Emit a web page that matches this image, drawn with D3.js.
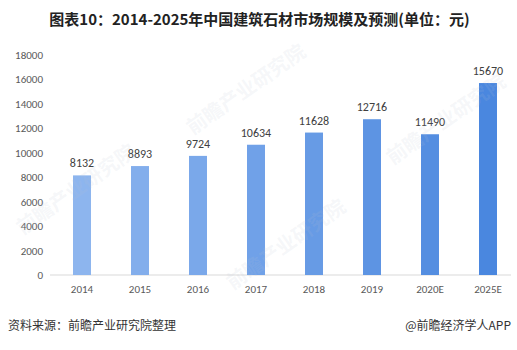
<!DOCTYPE html>
<html>
<head>
<meta charset="utf-8">
<script src="https://cdn.jsdelivr.net/npm/d3@7"></script>
<style>
  html, body { margin: 0; padding: 0; background: #fff; }
  svg { display: block; font-family: "Microsoft YaHei", "Noto Sans CJK SC", "Noto Sans", sans-serif; }
</style>
</head>
<body>
<svg id="chart" width="517" height="350"></svg>
<script>
// 中国建筑石材市场规模（元）
const years = ["2014", "2015", "2016", "2017", "2018", "2019", "2020E", "2025E"];
const marketSize = [8132, 8893, 9724, 10634, 11628, 12716, 11490, 15670];
const yTicks = [0, 2000, 4000, 6000, 8000, 10000, 12000, 14000, 16000, 18000];

const titleText = "图表10：2014-2025年中国建筑石材市场规模及预测(单位：元)";
const sourceText = "资料来源：前瞻产业研究院整理";
const brandText = "@前瞻经济学人APP";
const watermarkText = "前瞻产业研究院";

const svg = d3.select("#chart");
const W = 517, H = 350;
const plot = { left: 53, right: 517, top: 54.5, bottom: 275 };

const x = d3.scaleBand().domain(years).range([plot.left, plot.right]).paddingInner(0.69).paddingOuter(0.345);
const y = d3.scaleLinear().domain([0, 18000]).range([plot.bottom, plot.top]);
const color = d3.scaleLinear().domain([0, years.length - 1]).range(["#8db5ee", "#4a87df"]);

// 标题
svg.append("text").attr("x", W / 2 + 1).attr("y", 25).attr("text-anchor", "middle")
  .attr("font-size", 15).attr("font-weight", "bold").attr("fill", "#222").text(titleText);

// y 轴
const yAxis = svg.append("g").attr("transform", `translate(${plot.left - 10},0)`)
  .call(d3.axisLeft(y).tickValues(yTicks).tickSize(0).tickPadding(0).tickFormat(d3.format("d")));
yAxis.select(".domain").remove();
yAxis.selectAll("text").attr("font-size", 11).attr("fill", "#595959")
  .attr("font-family", "Calibri, Carlito, 'Liberation Sans', sans-serif");

// x 轴
const xAxis = svg.append("g").attr("transform", `translate(0,${plot.bottom})`)
  .call(d3.axisBottom(x).tickSize(0).tickPadding(10));
xAxis.select(".domain").attr("stroke", "#d9d9d9").attr("d", `M${plot.left - 3},0H${plot.right - 6}`);
xAxis.selectAll("text").attr("font-size", 11).attr("fill", "#595959")
  .attr("font-family", "Calibri, Carlito, 'Liberation Sans', sans-serif");

// 柱
svg.append("g").selectAll("rect").data(years).join("rect")
  .attr("x", d => x(d))
  .attr("width", x.bandwidth())
  .attr("y", (d, i) => y(marketSize[i]))
  .attr("height", (d, i) => y(0) - y(marketSize[i]))
  .attr("fill", (d, i) => color(i));

// 数值标签
svg.append("g").selectAll("text").data(years).join("text")
  .attr("x", d => x(d) + x.bandwidth() / 2)
  .attr("y", (d, i) => y(marketSize[i]) - 8)
  .attr("text-anchor", "middle").attr("font-size", 12).attr("fill", "#404040")
  .attr("font-family", "Calibri, Carlito, 'Liberation Sans', sans-serif")
  .text((d, i) => marketSize[i]);

// 来源与署名
svg.append("text").attr("x", 8).attr("y", 330).attr("font-size", 12).attr("fill", "#333").text(sourceText);
svg.append("text").attr("x", 511).attr("y", 330).attr("text-anchor", "end").attr("font-size", 12).attr("fill", "#333").text(brandText);

// 水印（覆盖在图上，半透明）
const wm = svg.append("g").attr("fill", "#b8c2d2").attr("fill-opacity", 0.14)
  .attr("font-size", 20).attr("font-weight", "bold").attr("pointer-events", "none");
[[80, 195], [250, 95], [290, 250], [450, 125]].forEach(([cx, cy]) => {
  wm.append("text").attr("transform", `translate(${cx},${cy}) rotate(-35)`)
    .attr("text-anchor", "middle").text(watermarkText);
});
</script>
</body>
</html>
